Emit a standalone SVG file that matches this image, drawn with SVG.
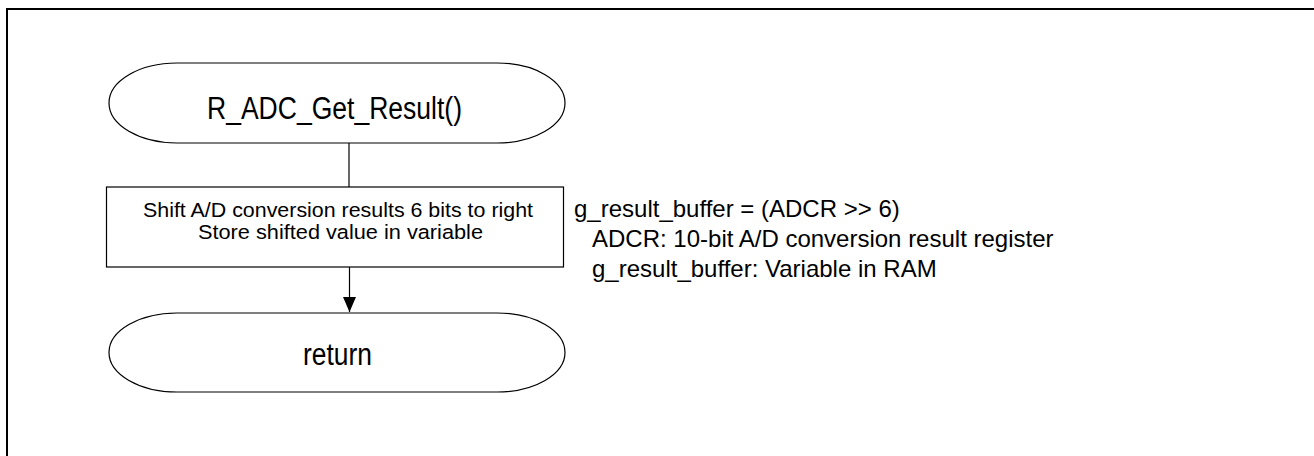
<svg xmlns="http://www.w3.org/2000/svg" width="1314" height="456" viewBox="0 0 1314 456">
<style>
.shape{fill:#fff;stroke:#000;stroke-width:1.2}
.t{font-family:"Liberation Sans",Arial,sans-serif;fill:#000}
.title{font-size:31px;text-anchor:middle}
.box{font-size:20.5px;text-anchor:middle}
.note{font-size:24px}
.conn{stroke:#000;stroke-width:1.2;fill:none}
</style>
<defs>
<marker id="ah" viewBox="0 0 15 13" refX="15" refY="6.5" markerWidth="15" markerHeight="13" markerUnits="userSpaceOnUse" orient="auto">
<path d="M0,0 L15,6.5 L0,13 Z" fill="#000"/>
</marker>
</defs>
<rect x="7" y="9" width="1320" height="460" fill="none" stroke="#000" stroke-width="2"/>
<g id="connectors">
<line class="conn" x1="349" y1="143" x2="349" y2="187"/>
<line class="conn" x1="349.5" y1="267" x2="349.5" y2="312" marker-end="url(#ah)"/>
</g>
<g id="start">
<path class="shape" d="M177,63 H497 A68,40 0 0 1 497,143 H177 A68,40 0 0 1 177,63 Z"/>
<text class="t title" x="334.5" y="119" textLength="255" lengthAdjust="spacingAndGlyphs">R_ADC_Get_Result()</text>
</g>
<g id="process">
<rect class="shape" x="106.5" y="187" width="457" height="80"/>
<text class="t box" x="338" y="217" textLength="390" lengthAdjust="spacingAndGlyphs">Shift A/D conversion results 6 bits to right</text>
<text class="t box" x="340.5" y="239" textLength="285" lengthAdjust="spacingAndGlyphs">Store shifted value in variable</text>
</g>
<g id="end">
<path class="shape" d="M177,313 H497 A68,39.5 0 0 1 497,392 H177 A68,39.5 0 0 1 177,313 Z"/>
<text class="t title" x="337.5" y="365" textLength="69" lengthAdjust="spacingAndGlyphs">return</text>
</g>
<g id="note">
<text class="t note" x="574" y="217">g_result_buffer = (ADCR &gt;&gt; 6)</text>
<text class="t note" x="592" y="247">ADCR: 10-bit A/D conversion result register</text>
<text class="t note" x="592" y="277">g_result_buffer: Variable in RAM</text>
</g>
</svg>
